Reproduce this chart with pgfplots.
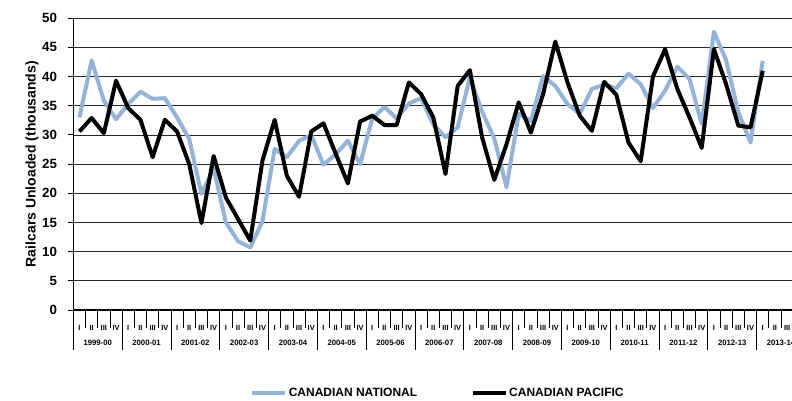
\documentclass[border=0pt]{standalone}
\usepackage{fontspec}
\setmainfont{Liberation Sans}
\usepackage{pgfplots}
\usepackage{pgfplotstable}
\pgfplotsset{compat=1.18}
\definecolor{cnblue}{RGB}{149,179,215}
\tikzset{yearlab/.style={font=\bfseries\fontsize{5.8}{7}\selectfont, yshift=-24.5pt}}

\pgfplotstableread{
q cn cp
0 33.0 30.6
1 42.8 32.9
2 35.9 30.3
3 32.7 39.3
4 35.3 34.6
5 37.4 32.6
6 36.2 26.2
7 36.3 32.6
8 33.0 30.6
9 29.3 25.0
10 19.9 14.9
11 24.3 26.4
12 15.0 19.3
13 11.8 15.6
14 10.7 11.9
15 15.2 25.6
16 27.6 32.6
17 26.2 23.0
18 29.0 19.4
19 30.0 30.6
20 24.9 32.0
21 26.7 26.8
22 29.0 21.7
23 25.0 32.3
24 32.8 33.3
25 34.8 31.7
26 32.8 31.7
27 35.4 39.0
28 36.3 37.0
29 31.8 33.0
30 29.6 23.3
31 31.3 38.4
32 39.9 41.1
33 34.0 29.6
34 29.4 22.3
35 21.0 28.4
36 33.6 35.6
37 32.4 30.4
38 40.1 37.0
39 38.4 46.0
40 35.3 39.0
41 33.6 33.3
42 37.9 30.7
43 38.6 39.1
44 38.0 36.9
45 40.5 28.7
46 38.7 25.5
47 34.6 40.0
48 37.6 44.7
49 41.7 37.9
50 39.6 33.0
51 31.9 27.8
52 47.7 44.7
53 42.8 38.7
54 33.9 31.6
55 28.7 31.3
56 42.7 41.0
}\datatable

\begin{document}
\begin{tikzpicture}
\begin{axis}[
  scale only axis,
  width=539pt, height=218.8pt,
  xmin=-0.5, xmax=58.4, ymin=0, ymax=50,
  enlargelimits=false,
  clip=false,
  axis x line*=bottom, axis y line*=left,
  axis line style={line width=1.1pt, -},
  ytick={0,5,...,50},
  ymajorgrids,
  grid style={black!85, line width=0.6pt},
  tick align=outside,
  major tick length=3.75pt,
  ytick style={black, line width=0.75pt},
  xtick style={draw=none},
  /pgf/number format/assume math mode=true,
  yticklabel style={font=\bfseries\fontsize{10}{12}\selectfont, xshift=-5pt},
  xtick={0,...,58},
  xticklabels={I,II,III,IV,I,II,III,IV,I,II,III,IV,I,II,III,IV,I,II,III,IV,I,II,III,IV,I,II,III,IV,I,II,III,IV,I,II,III,IV,I,II,III,IV,I,II,III,IV,I,II,III,IV,I,II,III,IV,I,II,III,IV,I,II,III,IV},
  xticklabel style={font=\bfseries\fontsize{5.6}{6}\selectfont, anchor=center, yshift=-9.8pt},
  every axis y label/.style={at={(axis description cs:-0.0575,0.5)}, rotate=90, anchor=center},
  ylabel={\bfseries\fontsize{10.5}{12}\selectfont Railcars Unloaded (thousands)},
  legend columns=2,
  legend style={at={(axis description cs:0.2456,-0.2845)}, anchor=west, draw=none, fill=none,
    font=\bfseries\fontsize{9}{11}\selectfont, inner sep=0pt,
    nodes={inner sep=1pt},
    /tikz/every even column/.append style={column sep=39pt}},
  legend image code/.code={\draw[#1] (0pt,0pt) -- (25pt,0pt);},
]
\addplot[cnblue, line width=3pt, line join=round] table[x=q, y=cn] {\datatable};
\addlegendentry{CANADIAN NATIONAL}
\addplot[black, line width=3pt, line join=round] table[x=q, y=cp] {\datatable};
\addlegendentry{CANADIAN PACIFIC}

\pgfplotsinvokeforeach{0,...,57}{
  \draw[black, line width=0.6pt] (axis cs:{#1+0.5},0) -- ++(0pt,-13.5pt);
}
\pgfplotsinvokeforeach{0,...,14}{
  \draw[black, line width=0.6pt] (axis cs:{4*#1-0.5},0) -- ++(0pt,-30pt);
}
\node[yearlab] at (axis cs:1.5,0) {1999-00};
\node[yearlab] at (axis cs:5.5,0) {2000-01};
\node[yearlab] at (axis cs:9.5,0) {2001-02};
\node[yearlab] at (axis cs:13.5,0) {2002-03};
\node[yearlab] at (axis cs:17.5,0) {2003-04};
\node[yearlab] at (axis cs:21.5,0) {2004-05};
\node[yearlab] at (axis cs:25.5,0) {2005-06};
\node[yearlab] at (axis cs:29.5,0) {2006-07};
\node[yearlab] at (axis cs:33.5,0) {2007-08};
\node[yearlab] at (axis cs:37.5,0) {2008-09};
\node[yearlab] at (axis cs:41.5,0) {2009-10};
\node[yearlab] at (axis cs:45.5,0) {2010-11};
\node[yearlab] at (axis cs:49.5,0) {2011-12};
\node[yearlab] at (axis cs:53.5,0) {2012-13};
\node[yearlab] at (axis cs:57.5,0) {2013-14};
\end{axis}
\pgfresetboundingbox
\path[use as bounding box] (-55pt,-67.5pt) rectangle (539pt,232.5pt);
\end{tikzpicture}
\end{document}
